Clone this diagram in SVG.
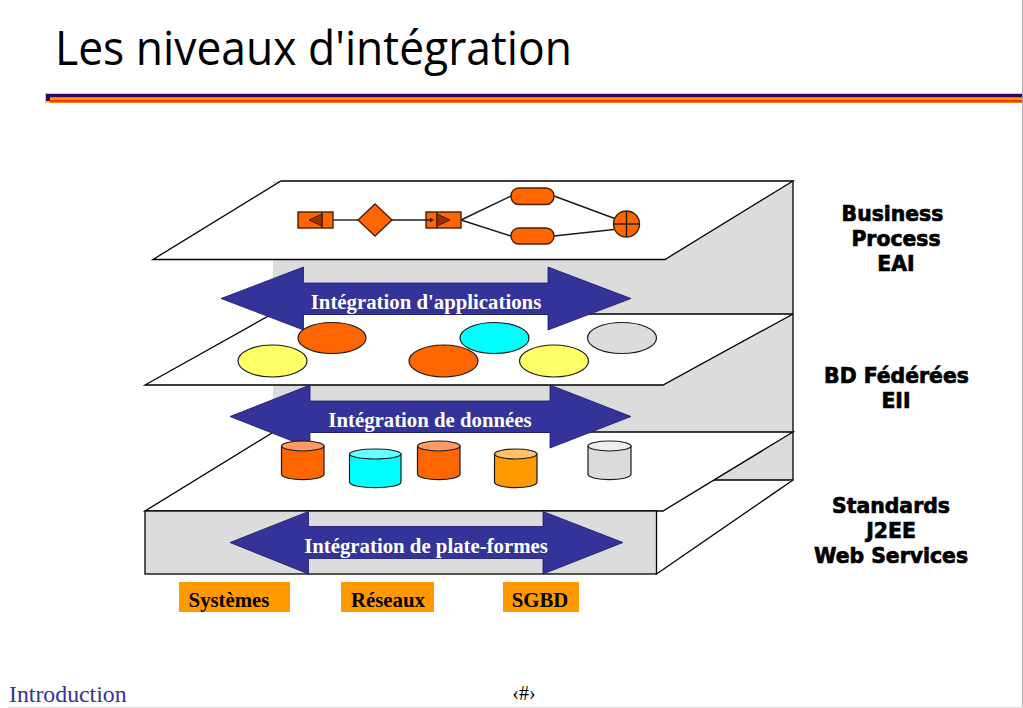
<svg xmlns="http://www.w3.org/2000/svg" width="1023" height="708" viewBox="0 0 1023 708">
<style>
.ln{stroke:#000;stroke-width:1.3;stroke-linejoin:miter}
.gray{fill:#dcdcdc}
.white{fill:#fff}
.arrow{fill:#333399;stroke:#1a1a66;stroke-width:.8}
.atxt{font:bold 20.8px "Liberation Serif",serif;fill:#fff;text-anchor:middle}
.otxt{font:bold 20.8px "Liberation Serif",serif;fill:#000;text-anchor:middle}
.side{font:bold 20.4px "DejaVu Sans",sans-serif;fill:#000;text-anchor:middle;stroke:#000;stroke-width:.7}
.or{fill:#ff6600}
.sh{stroke:#4a2000;stroke-width:1.4}
.fl{stroke:#1a1a1a;stroke-width:1.4}
.el{stroke:#1a1a1a;stroke-width:1.2}
.tri{fill:#993300;stroke:#3a1a00;stroke-width:1}
.box{fill:#ff9900}
</style>
<rect width="1023" height="708" fill="#fff"/>
<g id="title"><text x="55" y="65" font-family="'Open Sans','Noto Sans',sans-serif" font-size="47.5" fill="#000" textLength="517" lengthAdjust="spacingAndGlyphs">Les niveaux d'intégration</text></g>
<g id="rule">
<rect x="45" y="93" width="978" height="10" fill="#ffcc33"/>
<rect x="46" y="94" width="977" height="3.5" fill="#330066"/>
<rect x="46" y="94" width="4" height="7" fill="#330066"/>
<rect x="50" y="97.500" width="973" height="2.500" fill="#ff9900"/>
<rect x="50" y="100" width="973" height="2.500" fill="#ff3300"/>
</g>
<line x1="1022.500" y1="0" x2="1022.500" y2="708" stroke="#aaa" stroke-width="1"/>
<line x1="8" y1="707.500" x2="1023" y2="707.500" stroke="#ddd" stroke-width="1"/>

<g id="layer-back">
<rect x="273" y="181" width="520" height="299" class="gray"/>
<polyline points="793,181 793,480 714,480" class="ln" fill="none"/>
</g>
<g id="layer-process">
<polygon points="281,181 793,181 665,259.500 153,259.500" class="white ln"/>
<g id="flow" class="sh">
<line x1="333" y1="220" x2="358" y2="220" class="fl"/>
<line x1="392" y1="220" x2="430" y2="220" class="fl"/>
<line x1="461" y1="220" x2="511" y2="196" class="fl"/>
<line x1="461" y1="220" x2="511" y2="236" class="fl"/>
<line x1="554" y1="196" x2="616" y2="219" class="fl"/>
<line x1="554" y1="236" x2="614" y2="229.500" class="fl"/>
<rect x="298" y="212" width="35" height="16" class="or"/>
<line x1="322" y1="212" x2="322" y2="228"/>
<polygon points="309,220 322,214 322,226" class="tri"/>
<polygon points="375,204 392,220 375,236 358,220" class="or"/>
<rect x="426" y="212" width="35" height="16" class="or"/>
<line x1="437" y1="212" x2="437" y2="228"/>
<polygon points="450,220 437,214 437,226" class="tri"/>
<line x1="426" y1="220" x2="431" y2="220" class="fl"/>
<polygon points="434,220 430,217.800 430,222.200" fill="#1a1a1a" stroke="none"/>
<rect x="511" y="188" width="43" height="16.500" rx="8" class="or"/>
<rect x="511" y="228" width="43" height="16" rx="8" class="or"/>
<circle cx="626.500" cy="224" r="13" class="or"/>
<line x1="613.500" y1="224" x2="639.500" y2="224" class="fl"/>
<line x1="626.500" y1="211" x2="626.500" y2="237" class="fl"/>
</g>
</g>
<g id="layer-data">
<polygon points="273,314 793,314 663,385 145,385" class="white" />
<polyline points="793,314 273,314" class="ln" fill="none"/>
<polyline points="272,314 145,385 663,385 793,314" class="ln" fill="none"/>
</g>
<g id="layer-platform">
<polygon points="657,511 663,511 793,480 657,574" class="white"/>
<polygon points="272,432 793,432 663,511 145,511" class="white"/>
<polyline points="272,433 145,511 663,511 793,432 273,432" class="ln" fill="none"/>
<polyline points="793,480 656.500,574" class="ln" fill="none"/>
<rect x="145" y="511" width="511.500" height="63" class="gray ln"/>
</g>
<g id="connectors">
<polygon id="arrow-app" class="arrow" points="221,298.500 303.500,267 303.500,283 548,283 548,267 631,298.500 548,330 548,314.500 303.500,314.500 303.500,330"/>
<polygon id="arrow-data" class="arrow" points="230,416.500 310,385 310,401 550,401 550,385 631,416.500 550,448 550,432.500 310,432.500 310,448"/>
<polygon id="arrow-platform" class="arrow" points="230,542.500 308.500,511.500 308.500,526.500 543,526.500 543,511.500 623,542.500 543,574 543,558.500 308.500,558.500 308.500,574"/>
</g>
<g id="ellipses">
<ellipse cx="332" cy="338" rx="34" ry="15.500" class="or el"/>
<ellipse cx="494.500" cy="338" rx="34.500" ry="15.500" fill="#00ffff" class="el"/>
<ellipse cx="622" cy="338" rx="34.500" ry="15.500" fill="#dcdcdc" class="el"/>
<ellipse cx="272.500" cy="361" rx="34.500" ry="16" fill="#ffff66" class="el"/>
<ellipse cx="443.500" cy="361" rx="34.500" ry="16" class="or el"/>
<ellipse cx="554" cy="361" rx="34.500" ry="16" fill="#ffff66" class="el"/>
</g>
<g id="cylinders" class="el">
<g id="db1"><path d="M281.500 446V474C281.500 481.500 324 481.500 324 474V446Z" fill="#ff6600"/><ellipse cx="302.750" cy="446" rx="21.250" ry="5" fill="#ff9966"/></g>
<g id="db2"><path d="M349.500 454V482C349.500 489.500 401 489.500 401 482V454Z" fill="#00ffff"/><ellipse cx="375.250" cy="454" rx="25.750" ry="5" fill="#66ffff"/></g>
<g id="db3"><path d="M417.500 446V474C417.500 481.500 460 481.500 460 474V446Z" fill="#ff6600"/><ellipse cx="438.750" cy="446" rx="21.250" ry="5" fill="#ff9966"/></g>
<g id="db4"><path d="M494.500 454V482C494.500 489.500 537 489.500 537 482V454Z" fill="#ff9900"/><ellipse cx="515.750" cy="454" rx="21.250" ry="5" fill="#ffc266"/></g>
<g id="db5"><path d="M588 446V474C588 481.500 631 481.500 631 474V446Z" fill="#dcdcdc"/><ellipse cx="609.500" cy="446" rx="21.500" ry="5" fill="#eeeeee"/></g>
</g>
<text x="426" y="309" class="atxt">Intégration d'applications</text>
<text x="430" y="427" class="atxt">Intégration de données</text>
<text x="426" y="553" class="atxt">Intégration de plate-formes</text>
<g id="sys"><rect x="179" y="582" width="111" height="30" class="box"/><text x="229" y="607" class="otxt">Systèmes</text></g>
<g id="net"><rect x="341" y="582" width="93" height="30" class="box"/><text x="388" y="607" class="otxt">Réseaux</text></g>
<g id="dbms"><rect x="503" y="582" width="76" height="30" class="box"/><text x="540" y="607" class="otxt">SGBD</text></g>
<g id="labels">
<text x="892.500" y="221" class="side">Business</text>
<text x="896" y="246" class="side">Process</text>
<text x="896" y="271" class="side">EAI</text>
<text x="896.500" y="383" class="side">BD Fédérées</text>
<text x="896" y="408" class="side">EII</text>
<text x="891" y="513" class="side">Standards</text>
<text x="891" y="538" class="side">J2EE</text>
<text x="891" y="563" class="side">Web Services</text>
</g>
<text x="9" y="702" font-family="'Liberation Serif',serif" font-size="23.800" fill="#333399">Introduction</text>
<text x="524" y="700" font-family="'Liberation Serif',serif" font-size="20" fill="#000" text-anchor="middle">‹#›</text>
</svg>
